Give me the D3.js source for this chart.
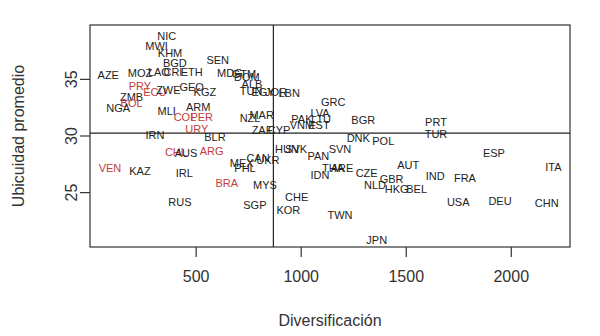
<!DOCTYPE html>
<html>
<head>
<meta charset="utf-8">
<script src="https://cdn.jsdelivr.net/npm/d3@7"></script>
<style>
  body { margin: 0; background: #fff; }
  svg text { font-family: "Liberation Sans", Arial, sans-serif; }
</style>
</head>
<body>
<div id="chart"></div>
<script>
// País, diversificación, ubicuidad promedio, América Latina (rojo)
const paises = ["NIC","MWI","KHM","BGD","SEN","AZE","MOZ","LAO","CRI","ETH","MDG","GTM","DOM","ALB","TUN","EGY","JOR","LBN",
  "PRY","ECU","ZWE","GEO","KGZ","ZMB","BOL","NGA","MLI","ARM","COL","PER","URY","MAR","NZL","ZAF","CYP","VNM","EST","PAK",
  "LVA","LTU","GRC","BGR","PRT","TUR","DNK","POL","SVN","HUN","SVK","PAN","CAN","UKR","MEX","PHL","THA","ARE","IDN","CZE",
  "AUT","GBR","NLD","HKG","BEL","IND","FRA","ESP","ITA","USA","DEU","CHN","CHE","KOR","TWN","JPN","MYS","SGP","RUS","BRA",
  "IRL","KAZ","VEN","BLR","IRN","ARG","CHL","AUS"];
const diversificacion = [362,314,378,401,605,84,235,325,392,481,663,730,744,768,764,821,883,945,
  235,306,370,481,544,195,195,131,362,512,449,529,505,814,759,816,897,1006,1087,1006,
  1092,1097,1155,1298,1644,1644,1274,1393,1187,935,978,1084,797,844,719,735,1154,1197,1092,1314,
  1512,1433,1354,1457,1552,1640,1782,1920,2203,1750,1949,2171,981,941,1187,1362,830,782,425,648,
  446,235,92,592,306,576,406,454];
const ubicuidad = [38.85,37.94,37.3,36.47,36.71,35.38,35.59,35.68,35.68,35.68,35.59,35.47,35.21,34.59,33.97,33.88,33.88,33.8,
  34.44,33.91,34.06,34.35,33.91,33.47,32.89,32.44,32.23,32.53,31.7,31.7,30.59,31.85,31.56,30.49,30.49,30.93,30.97,31.46,
  32.03,31.5,32.97,31.41,31.26,30.15,29.8,29.56,28.85,28.85,28.85,28.23,28.06,27.88,27.59,27.15,27.15,27.15,26.56,26.76,
  27.44,26.18,25.68,25.3,25.3,26.47,26.27,28.53,27.24,24.2,24.29,24.11,24.64,23.47,23.03,20.82,25.68,23.91,24.2,25.88,
  26.76,26.94,27.15,29.89,30.09,28.68,28.61,28.5];
const latam = ["PRY","ECU","BOL","COL","PER","URY","BRA","VEN","ARG","CHL"];
const xTicks = [500, 1000, 1500, 2000];
const yTicks = [25, 30, 35];
const corteX = 870;    // línea vertical
const corteY = 30.26;  // línea horizontal

const data = paises.map((p, i) => ({ pais: p, x: diversificacion[i], y: ubicuidad[i] }));

const W = 600, H = 336;
const box = { left: 90, right: 570, top: 25, bottom: 247 };

const svg = d3.select("#chart").append("svg")
  .attr("width", W).attr("height", H);

const x = d3.scaleLinear().domain([-3, 2282]).range([box.left, box.right]);
const y = d3.scaleLinear().domain([20.2, 39.8]).range([box.bottom, box.top]);

// Marco
svg.append("rect")
  .attr("x", box.left).attr("y", box.top)
  .attr("width", box.right - box.left).attr("height", box.bottom - box.top)
  .attr("fill", "none").attr("stroke", "#333").attr("stroke-width", 1.2);

// Ejes
const ax = svg.append("g")
  .attr("transform", `translate(0,${box.bottom})`)
  .call(d3.axisBottom(x).tickValues(xTicks).tickFormat(d3.format("d")).tickSize(10).tickPadding(14));
const ay = svg.append("g")
  .attr("transform", `translate(${box.left},0)`)
  .call(d3.axisLeft(y).tickValues(yTicks).tickFormat(d3.format("d")).tickSize(10).tickPadding(10));
[ax, ay].forEach(g => {
  g.select(".domain").remove();
  g.selectAll("line").attr("stroke", "#333").attr("stroke-width", 1.2);
  g.selectAll("text").attr("fill", "#333").style("font-size", "16px");
});
ay.selectAll("text")
  .attr("text-anchor", "middle")
  .attr("dy", null)
  .attr("transform", d => `translate(-19,${y(d)}) rotate(-90)`)
  .attr("x", 0).attr("y", 0)
  .attr("dominant-baseline", "central");
ay.selectAll(".tick").attr("transform", null);
ay.selectAll(".tick line").attr("y1", d => y(d)).attr("y2", d => y(d));

// Líneas de corte
svg.append("line")
  .attr("x1", x(corteX)).attr("x2", x(corteX))
  .attr("y1", box.top).attr("y2", box.bottom)
  .attr("stroke", "#222").attr("stroke-width", 1.2);
svg.append("line")
  .attr("x1", box.left).attr("x2", box.right)
  .attr("y1", y(corteY)).attr("y2", y(corteY))
  .attr("stroke", "#222").attr("stroke-width", 1.2);

// Etiquetas de países
svg.selectAll(".pais")
  .data(data)
  .enter()
  .append("text")
  .attr("class", "pais")
  .attr("x", d => x(d.x))
  .attr("y", d => y(d.y))
  .attr("text-anchor", "middle")
  .attr("dominant-baseline", "central")
  .attr("fill", d => latam.includes(d.pais) ? "#c43c3c" : "#222")
  .style("font-size", "11px")
  .text(d => d.pais);

// Títulos de ejes
svg.append("text")
  .attr("x", (box.left + box.right) / 2)
  .attr("y", 320)
  .attr("text-anchor", "middle")
  .attr("dominant-baseline", "central")
  .attr("fill", "#333")
  .style("font-size", "16px")
  .text("Diversificación");
svg.append("text")
  .attr("transform", `translate(18,${(box.top + box.bottom) / 2}) rotate(-90)`)
  .attr("text-anchor", "middle")
  .attr("dominant-baseline", "central")
  .attr("fill", "#333")
  .style("font-size", "16px")
  .text("Ubicuidad promedio");
</script>
</body>
</html>
